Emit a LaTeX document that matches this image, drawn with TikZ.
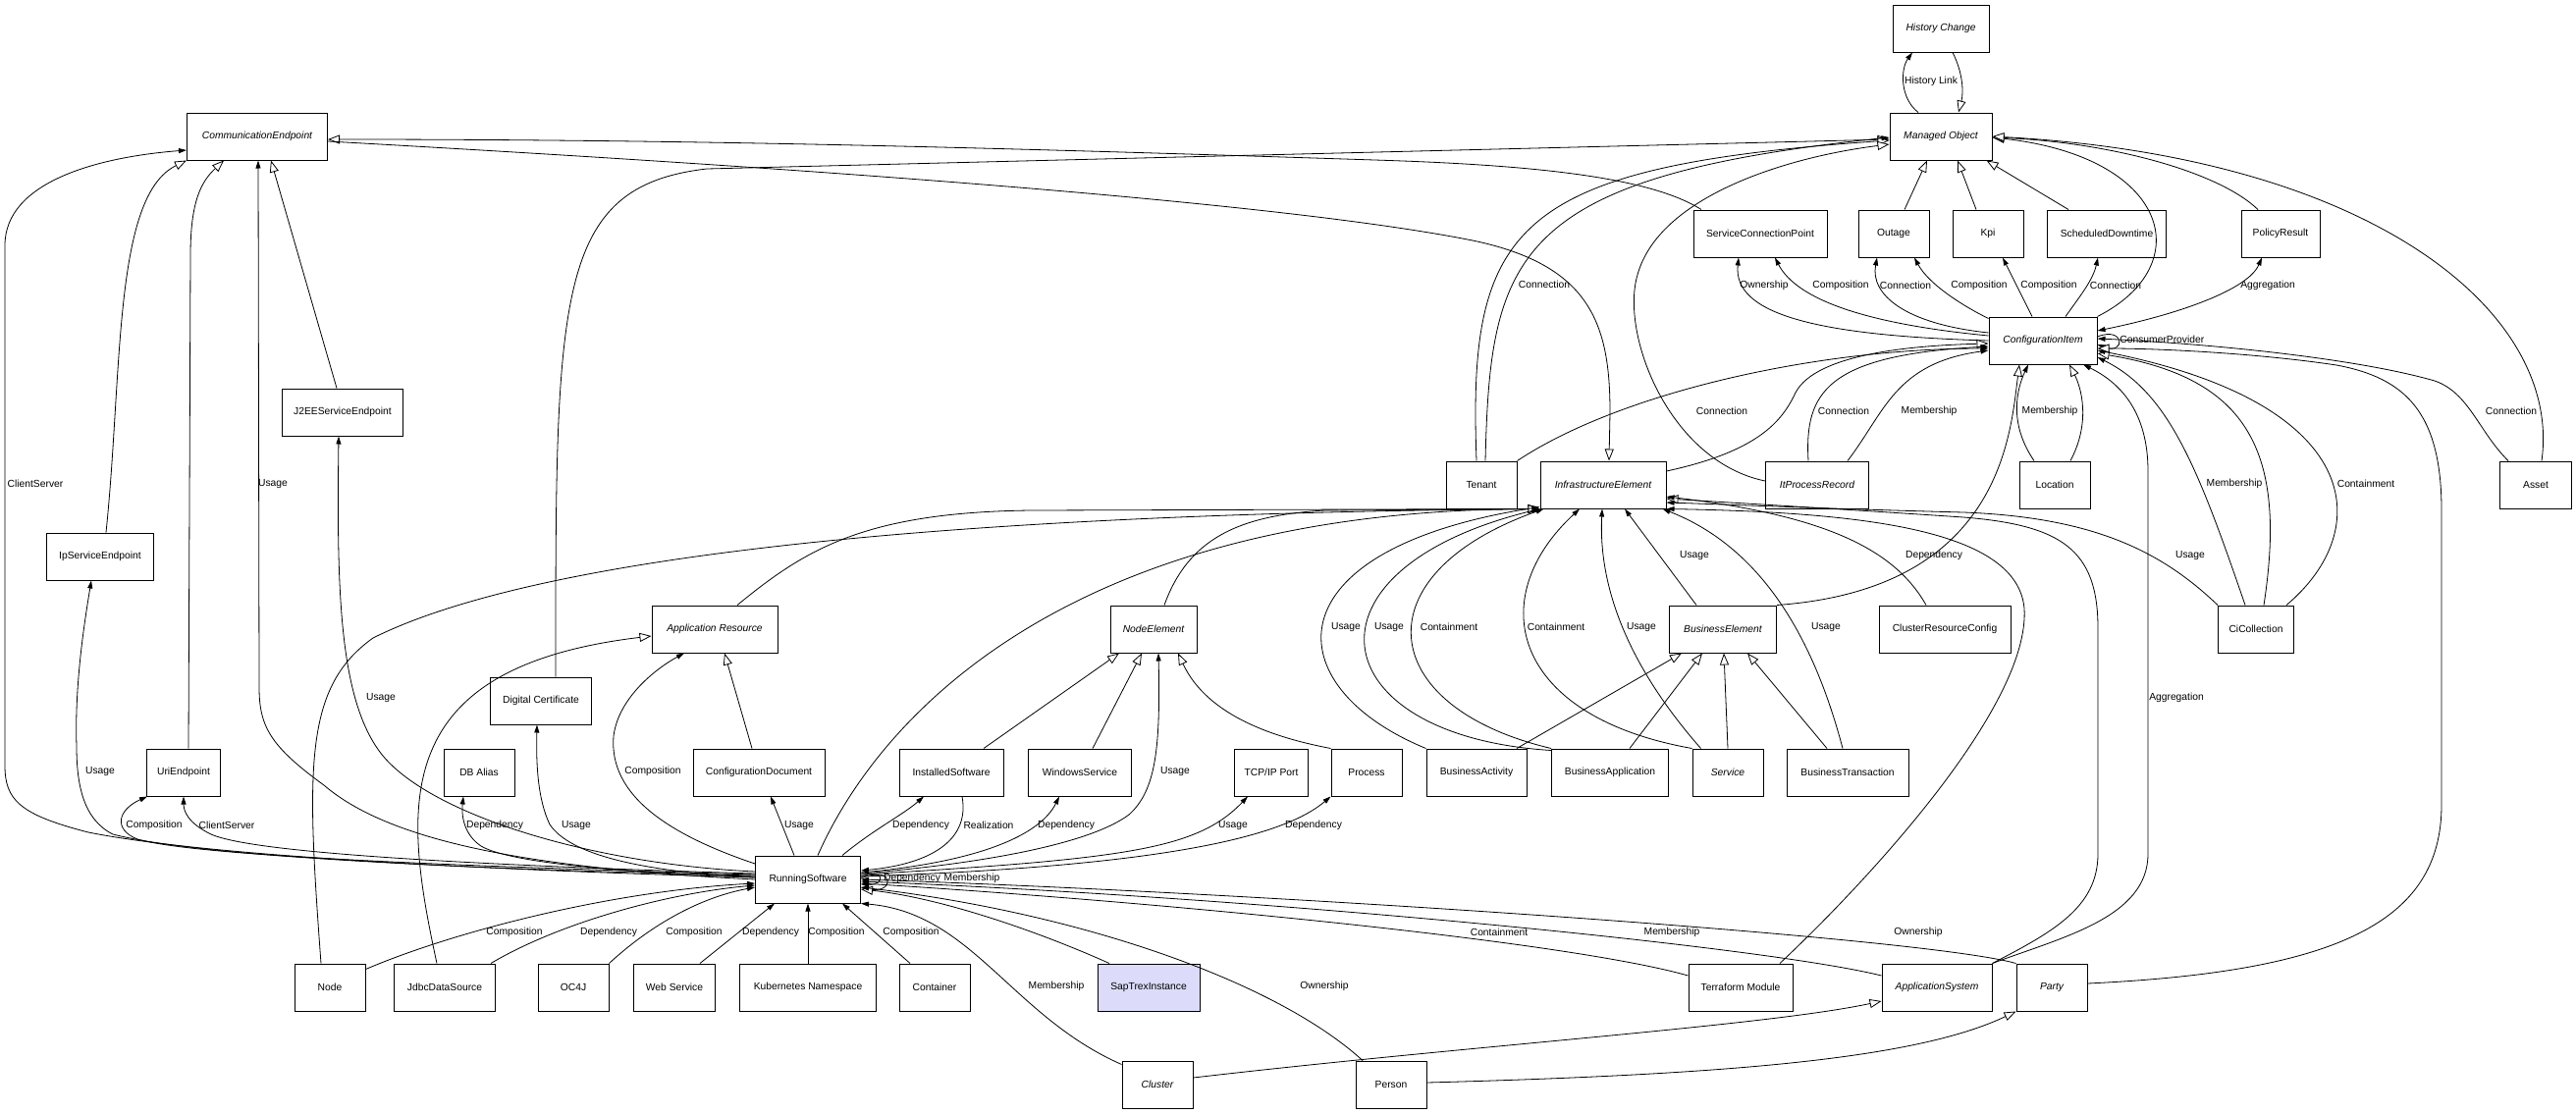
\documentclass[tikz,border=0pt]{standalone}
\usepackage{fontspec}
\setmainfont{Liberation Sans}
\usetikzlibrary{arrows.meta}
\definecolor{trexfill}{RGB}{220,220,250}

\begin{document}
\begin{tikzpicture}[x=1pt,y=-1pt,
  cls/.style={draw,line width=1pt,minimum width=72pt,minimum height=48pt,inner sep=2pt,font=\fontsize{10.3}{12}\selectfont},
  abs/.style={cls,font=\fontsize{10.3}{12}\selectfont\itshape},
  lbl/.style={inner sep=0pt,font=\fontsize{10.3}{12}\selectfont},
  assoc/.style={line width=0.8pt,arrows={-Triangle[length=8pt,width=5pt]}},
  both/.style={line width=0.8pt,arrows={Triangle[length=8pt,width=5pt]-Triangle[length=8pt,width=5pt]}},
  gen/.style={line width=0.8pt,arrows={-Triangle[open,fill=white,length=12pt,width=9pt]}}]

\path[fill=white,use as bounding box] (0,0) rectangle (2624,1135);

\node[abs,minimum width=98pt] (hist) at (1977,29) {History Change};
\node[abs,minimum width=104pt] (mo) at (1977,139) {Managed Object};
\node[abs,minimum width=143pt] (ce) at (262,139) {CommunicationEndpoint};
\node[cls,minimum width=136pt] (scp) at (1793,238) {ServiceConnectionPoint};
\node[cls] (outage) at (1929,238) {Outage};
\node[cls] (kpi) at (2025,238) {Kpi};
\node[cls,minimum width=121pt] (sdt) at (2146,238) {ScheduledDowntime};
\node[cls,minimum width=80pt] (policy) at (2323,238) {PolicyResult};
\node[abs,minimum width=110pt] (ci) at (2081,347) {ConfigurationItem};
\node[cls,minimum width=123pt] (j2ee) at (349,420) {J2EEServiceEndpoint};
\node[cls] (tenant) at (1509,494) {Tenant};
\node[abs,minimum width=128pt] (infra) at (1633,494) {InfrastructureElement};
\node[abs,minimum width=105pt] (itpr) at (1851,494) {ItProcessRecord};
\node[cls] (loc) at (2093,494) {Location};
\node[cls,minimum width=73pt] (asset) at (2583,494) {Asset};
\node[cls,minimum width=109pt] (ipse) at (102,567) {IpServiceEndpoint};
\node[abs,minimum width=128pt] (appres) at (728,641) {Application Resource};
\node[abs,minimum width=88pt] (nodeel) at (1175,641) {NodeElement};
\node[abs,minimum width=109pt] (busel) at (1755,641) {BusinessElement};
\node[cls,minimum width=134pt] (crc) at (1981,641) {ClusterResourceConfig};
\node[cls,minimum width=77pt] (cicoll) at (2298,641) {CiCollection};
\node[cls,minimum width=103pt] (digcert) at (551,714) {Digital Certificate};
\node[cls,minimum width=75pt] (uri) at (187,787) {UriEndpoint};
\node[cls] (dbalias) at (488,787) {DB Alias};
\node[cls,minimum width=134pt] (confdoc) at (773,787) {ConfigurationDocument};
\node[cls,minimum width=106pt] (instsw) at (969,787) {InstalledSoftware};
\node[cls,minimum width=105pt] (winsvc) at (1100,787) {WindowsService};
\node[cls,minimum width=75pt] (tcpip) at (1295,787) {TCP/IP Port};
\node[cls] (process) at (1392,787) {Process};
\node[cls,minimum width=102pt] (bact) at (1504,787) {BusinessActivity};
\node[cls,minimum width=119pt] (bapp) at (1640,787) {BusinessApplication};
\node[abs] (service) at (1760,787) {Service};
\node[cls,minimum width=124pt] (btrans) at (1882,787) {BusinessTransaction};
\node[cls,minimum width=107pt] (rs) at (823,896) {RunningSoftware};
\node[cls] (nodeitem) at (336,1006) {Node};
\node[cls,minimum width=103pt] (jdbc) at (453,1006) {JdbcDataSource};
\node[cls] (oc4j) at (584,1006) {OC4J};
\node[cls,minimum width=83pt] (websvc) at (687,1006) {Web Service};
\node[cls,minimum width=139pt] (k8s) at (823,1006) {Kubernetes Namespace};
\node[cls] (container) at (952,1006) {Container};
\node[cls,minimum width=104pt,fill=trexfill] (saptrex) at (1170,1006) {SapTrexInstance};
\node[cls,minimum width=106pt] (terra) at (1773,1006) {Terraform Module};
\node[abs,minimum width=112pt] (appsys) at (1973,1006) {ApplicationSystem};
\node[abs] (party) at (2090,1006) {Party};
\node[abs] (cluster) at (1179,1105) {Cluster};
\node[cls] (person) at (1417,1105) {Person};

\draw[assoc] ([xshift=-23pt]mo.north) .. controls (1935,100) and (1936,70) .. ([xshift=-29pt]hist.south) node[lbl] at (1967,83) {History Link};
\draw[gen] ([xshift=12pt]hist.south) .. controls (2000,75) and (2000,95) .. ([xshift=18pt]mo.north);

\draw[gen] ([xshift=-60pt]scp.north) .. controls (1680,180) and (1560,168) .. (1400,163) .. controls (1000,150) and (700,142) .. ([yshift=-3pt]ce.east);
\draw[gen] ([yshift=-5pt]ce.east) .. controls (800,170) and (1300,205) .. (1500,245) .. controls (1620,270) and (1640,330) .. (1640,420) -- ([xshift=6pt]infra.north);
\draw[gen] ([xshift=6pt]ipse.north) .. controls (125,380) and (115,200) .. (ce.south west);
\draw[gen] ([xshift=5pt]uri.north) -- (194,260) .. controls (194,205) and (205,185) .. ([xshift=-34pt]ce.south);
\draw[gen] ([xshift=-6pt]j2ee.north) -- ([xshift=14pt]ce.south);
\draw[assoc] ([yshift=8pt]rs.west) .. controls (600,880) and (440,830) .. (390,770) .. controls (345,715) and (343,600) .. ([xshift=-4pt]j2ee.south) node[lbl] at (388,711) {Usage};
\draw[assoc] ([yshift=2pt]rs.west) .. controls (450,885) and (200,870) .. (90,848) .. controls (20,830) and (5,815) .. (5,780) -- (5,250) .. controls (5,185) and (100,160) .. ([yshift=-14pt]ce.west) node[lbl] at (36,493) {ClientServer};
\draw[assoc] (rs.west) .. controls (550,885) and (400,860) .. (330,800) .. controls (275,760) and (264,740) .. (264,700) -- ([xshift=1pt]ce.south) node[lbl] at (278,493) {Usage};
\draw[assoc] ([yshift=4pt]rs.west) .. controls (450,885) and (200,872) .. (115,850) .. controls (85,835) and (78,800) .. (78,760) .. controls (76,700) and (85,640) .. ([xshift=-9pt]ipse.south) node[lbl] at (102,786) {Usage};
\draw[assoc] ([yshift=5pt]rs.west) .. controls (450,882) and (200,872) .. (140,855) .. controls (115,845) and (120,825) .. ([xshift=1pt]uri.south west) node[lbl] at (157,841) {Composition};
\draw[assoc] ([yshift=6pt]rs.west) .. controls (500,882) and (260,870) .. (215,850) .. controls (190,838) and (187,825) .. (uri.south) node[lbl] at (231,841) {ClientServer};
\draw[assoc] ([yshift=3pt]rs.west) .. controls (650,890) and (520,880) .. (490,862) .. controls (472,850) and (470,830) .. ([xshift=-16pt]dbalias.south) node[lbl] at (504,841) {Dependency};
\draw[assoc] ([yshift=2pt]rs.west) .. controls (650,888) and (580,870) .. (560,840) .. controls (548,815) and (546,780) .. ([xshift=-4pt]digcert.south) node[lbl] at (587,841) {Usage};
\draw[assoc] ([yshift=16pt]rs.west) .. controls (680,850) and (620,810) .. (625,750) .. controls (630,710) and (670,680) .. ([xshift=-31pt]appres.south) node[lbl] at (665,786) {Composition};
\draw[assoc] ([xshift=-14pt]rs.north) -- ([xshift=12pt]confdoc.south) node[lbl] at (814,841) {Usage};

\draw[gen] ([xshift=10pt]rs.north) .. controls (900,720) and (1100,520) .. (infra.south west);
\draw[gen] ([xshift=-9pt]nodeitem.north) .. controls (312,780) and (310,700) .. (380,650) .. controls (500,590) and (800,525) .. (infra.south west);
\draw[gen] ([xshift=23pt]appres.north) .. controls (820,560) and (880,522) .. (1050,520) -- (infra.south west);
\draw[gen] ([xshift=11pt]nodeel.north) .. controls (1210,550) and (1260,525) .. (1350,520) -- (infra.south west);

\draw[gen] ([xshift=15pt]digcert.north) .. controls (566,300) and (565,190) .. (720,172) -- ([yshift=-3pt]mo.west);
\draw[gen] ([xshift=-5pt]tenant.north) .. controls (1495,230) and (1540,170) .. ([yshift=-4pt]mo.west);
\draw[assoc] ([xshift=4pt]tenant.north) .. controls (1518,260) and (1540,180) .. ([yshift=-1pt]mo.west) node[lbl] at (1573,290) {Connection};
\draw[gen] ([yshift=4pt]itpr.west) .. controls (1700,470) and (1650,340) .. (1668,280) .. controls (1690,200) and (1820,160) .. ([yshift=-8pt]mo.west);
\draw[gen] ([xshift=11pt]outage.north) -- ([xshift=-14pt]mo.south);
\draw[gen] ([xshift=-12pt]kpi.north) -- ([xshift=17pt]mo.south);
\draw[gen] ([xshift=-39pt]sdt.north) -- ([xshift=-6pt]mo.south east);
\draw[gen] (ci.north east) .. controls (2240,270) and (2210,160) .. ([yshift=-1pt]mo.east);
\draw[gen] ([xshift=-23pt]policy.north) .. controls (2260,175) and (2150,145) .. ([yshift=-1pt]mo.east);
\draw[gen] ([xshift=6pt]asset.north) .. controls (2610,320) and (2420,160) .. (mo.east);

\draw[assoc] (ci.west) .. controls (1850,342) and (1765,320) .. ([xshift=-22pt]scp.south) node[lbl] at (1797,291) {Ownership};
\draw[assoc] ([yshift=5pt]ci.west) .. controls (1900,330) and (1830,305) .. ([xshift=15pt]scp.south) node[lbl] at (1875,291) {Composition};
\draw[assoc] ([yshift=8pt]ci.west) .. controls (1940,330) and (1905,300) .. ([xshift=-17pt]outage.south) node[lbl] at (1941,291) {Connection};
\draw[assoc] ([yshift=-2pt]ci.north west) .. controls (2000,312) and (1965,290) .. ([xshift=21pt]outage.south) node[lbl] at (2016,291) {Composition};
\draw[assoc] ([xshift=-11pt]ci.north) -- ([xshift=15pt]kpi.south) node[lbl] at (2087,291) {Composition};
\draw[assoc] ([xshift=23pt]ci.north) .. controls (2120,300) and (2132,285) .. ([xshift=-9pt]sdt.south) node[lbl] at (2155,291) {Connection};
\draw[both] ([yshift=10pt]ci.east) .. controls (2220,320) and (2290,295) .. ([xshift=-19pt]policy.south) node[lbl] at (2310,291) {Aggregation};
\draw[assoc] ([yshift=4pt]ci.east) .. controls (2165,332) and (2165,362) .. ([yshift=-4pt]ci.east) node[lbl,anchor=west] at (2159,346) {ConsumerProvider};

\draw[gen] ([yshift=14pt]infra.east) .. controls (1790,460) and (1815,430) .. (1829,400) .. controls (1850,360) and (1950,352) .. ([yshift=-3pt]ci.west);
\draw[assoc] (tenant.north east) .. controls (1650,400) and (1850,355) .. ([yshift=-8pt]ci.west) node[lbl] at (1754,419) {Connection};
\draw[assoc] ([xshift=-9pt]itpr.north) .. controls (1838,400) and (1860,362) .. ([yshift=-6pt]ci.west) node[lbl] at (1878,419) {Connection};
\draw[assoc] ([xshift=31pt]itpr.north) .. controls (1920,420) and (1930,370) .. ([yshift=-10pt]ci.west) node[lbl] at (1965,419) {Membership};
\draw[assoc] ([xshift=-21pt]loc.north) .. controls (2045,430) and (2055,395) .. ([xshift=-15pt]ci.south) node[lbl] at (2088,419) {Membership};
\draw[gen] ([xshift=16pt]loc.north) .. controls (2130,430) and (2120,395) .. ([xshift=27pt]ci.south);
\draw[gen] (busel.north east) .. controls (2040,600) and (2048,440) .. ([xshift=-24pt]ci.south);
\draw[assoc] ([xshift=-11pt]cicoll.north) .. controls (2240,480) and (2210,400) .. ([yshift=-17pt]ci.east) node[lbl] at (2276,493) {Membership};
\draw[gen] ([xshift=8pt]cicoll.north) .. controls (2330,460) and (2290,385) .. ([yshift=-13pt]ci.east);
\draw[assoc] ([xshift=-8pt]cicoll.north east) .. controls (2420,540) and (2410,410) .. ([yshift=-10pt]ci.east) node[lbl] at (2410,493) {Containment};
\draw[assoc] ([xshift=9pt]asset.north west) .. controls (2525,440) and (2515,400) .. (2480,388) .. controls (2400,365) and (2250,350) .. ([yshift=2pt]ci.east) node[lbl] at (2558,419) {Connection};
\draw[gen] ([yshift=4pt]party.east) .. controls (2380,990) and (2487,940) .. (2487,820) -- (2487,520) .. controls (2487,420) and (2450,385) .. (2380,372) .. controls (2300,360) and (2200,355) .. ([yshift=-8pt]ci.east);

\draw[gen] (appsys.north east) .. controls (2090,950) and (2137,925) .. (2137,870) -- (2137,640) .. controls (2137,560) and (2100,535) .. (2000,527) .. controls (1850,517) and (1760,512) .. ([yshift=-14pt]infra.east);
\draw[assoc] (appsys.north east) .. controls (2100,955) and (2188,935) .. (2188,870) -- (2188,480) .. controls (2188,420) and (2160,390) .. ([xshift=41pt]ci.south) node[lbl] at (2217,711) {Aggregation};
\draw[assoc] ([xshift=40pt]terra.north) .. controls (1900,900) and (2068,720) .. (2062,620) .. controls (2055,540) and (1900,522) .. (infra.south east);
\draw[assoc] (cicoll.north west) .. controls (2200,560) and (2130,527) .. (2000,522) .. controls (1850,518) and (1760,514) .. ([yshift=-18pt]infra.east) node[lbl] at (2231,566) {Usage};
\draw[assoc] ([xshift=-19pt]crc.north) .. controls (1930,560) and (1860,525) .. ([yshift=-12pt]infra.east) node[lbl] at (1970,566) {Dependency};

\draw[assoc] ([xshift=-27pt]busel.north) -- ([xshift=22pt]infra.south) node[lbl] at (1726,566) {Usage};
\draw[assoc] ([xshift=-5pt]btrans.north) .. controls (1850,660) and (1800,560) .. ([xshift=-4pt]infra.south east) node[lbl] at (1860,639) {Usage};
\draw[assoc] ([xshift=9pt]service.north west) .. controls (1660,680) and (1628,600) .. ([xshift=-1pt]infra.south) node[lbl] at (1672,639) {Usage};
\draw[assoc] (service.north west) .. controls (1540,730) and (1510,610) .. ([xshift=-24pt]infra.south) node[lbl] at (1585,639) {Containment};
\draw[assoc] (bapp.north west) .. controls (1400,720) and (1385,585) .. ([xshift=4pt]infra.south west) node[lbl] at (1476,639) {Containment};
\draw[assoc] ([yshift=-2pt]bapp.north west) .. controls (1345,750) and (1315,580) .. (infra.south west) node[lbl] at (1415,639) {Usage};
\draw[assoc] (bact.north west) .. controls (1300,700) and (1290,560) .. ([yshift=2pt]infra.south west) node[lbl] at (1371,639) {Usage};

\draw[gen] ([xshift=41pt]bact.north) -- ([xshift=-42pt]busel.south);
\draw[gen] ([xshift=20pt]bapp.north) -- ([xshift=-21pt]busel.south);
\draw[gen] (service.north) -- ([xshift=1pt]busel.south);
\draw[gen] ([xshift=-21pt]btrans.north) -- ([xshift=25pt]busel.south);

\draw[gen] ([xshift=33pt]instsw.north) -- ([xshift=-35pt]nodeel.south);
\draw[gen] ([xshift=13pt]winsvc.north) -- ([xshift=-12pt]nodeel.south);
\draw[gen] (process.north west) .. controls (1300,752) and (1230,730) .. ([xshift=25pt]nodeel.south);
\draw[assoc] ([yshift=6pt]rs.east) .. controls (1000,880) and (1110,860) .. (1150,830) .. controls (1178,805) and (1182,760) .. ([xshift=5pt]nodeel.south) node[lbl] at (1197,786) {Usage};

\draw[assoc] ([xshift=35pt]rs.north) .. controls (890,845) and (920,830) .. ([xshift=-28pt]instsw.south) node[lbl] at (938,841) {Dependency};
\draw[assoc] ([xshift=11pt]instsw.south) .. controls (988,855) and (950,880) .. ([yshift=9pt]rs.east) node[lbl] at (1007,841) {Realization};
\draw[assoc] ([yshift=7pt]rs.east) .. controls (1000,878) and (1060,850) .. ([xshift=-21pt]winsvc.south) node[lbl] at (1086,841) {Dependency};
\draw[assoc] ([yshift=5pt]rs.east) .. controls (1150,875) and (1220,865) .. ([xshift=-24pt]tcpip.south) node[lbl] at (1256,841) {Usage};
\draw[assoc] ([yshift=3pt]rs.east) .. controls (1200,882) and (1310,850) .. (process.south west) node[lbl] at (1338,841) {Dependency};
\draw[assoc] ([yshift=3pt]rs.east) .. controls (902,884) and (902,902) .. ([yshift=-5pt]rs.east) node[lbl] at (929,895) {Dependency};
\draw[assoc] ([yshift=1pt]rs.east) .. controls (912,880) and (912,912) .. ([yshift=-8pt]rs.east) node[lbl] at (990,895) {Membership};

\draw[assoc] ([yshift=12pt]terra.west) .. controls (1600,960) and (1200,920) .. ([yshift=-4pt]rs.east) node[lbl] at (1527,950) {Containment};
\draw[assoc] ([yshift=12pt]appsys.west) .. controls (1800,965) and (1300,915) .. ([yshift=-2pt]rs.east) node[lbl] at (1703,950) {Membership};
\draw[assoc] (party.north west) .. controls (1960,955) and (1300,910) .. (rs.east) node[lbl] at (1954,950) {Ownership};
\draw[gen] ([xshift=-40pt]saptrex.north) .. controls (1060,950) and (960,915) .. ([yshift=-10pt]rs.east);
\draw[assoc] ([xshift=-29pt]person.north) .. controls (1300,1000) and (1100,930) .. ([yshift=-8pt]rs.east) node[lbl] at (1349,1005) {Ownership};
\draw[assoc] ([yshift=-4pt]cluster.north west) .. controls (1030,1035) and (990,930) .. (rs.south east) node[lbl] at (1076,1005) {Membership};
\draw[assoc] ([xshift=-25pt]container.north) -- ([xshift=35pt]rs.south) node[lbl] at (928,950) {Composition};
\draw[assoc] (k8s.north) -- (rs.south) node[lbl] at (852,950) {Composition};
\draw[assoc] ([xshift=26pt]websvc.north) -- ([xshift=-34pt]rs.south) node[lbl] at (785,950) {Dependency};
\draw[assoc] (oc4j.north east) .. controls (660,945) and (710,915) .. ([yshift=-8pt]rs.west) node[lbl] at (707,950) {Composition};
\draw[assoc] ([xshift=-5pt]jdbc.north east) .. controls (570,940) and (680,910) .. ([yshift=-6pt]rs.west) node[lbl] at (620,950) {Dependency};
\draw[assoc] ([yshift=-6pt]nodeitem.north east) .. controls (460,950) and (620,908) .. ([yshift=-4pt]rs.west) node[lbl] at (524,950) {Composition};
\draw[gen] ([xshift=-8pt]jdbc.north) .. controls (410,820) and (395,680) .. ([yshift=-7pt]appres.west);
\draw[gen] ([xshift=-7pt]confdoc.north) -- ([xshift=10pt]appres.south);
\draw[gen] ([yshift=7pt]cluster.east) .. controls (1500,1065) and (1800,1045) .. ([yshift=-14pt]appsys.west);
\draw[gen] ([yshift=2pt]person.east) .. controls (1750,1095) and (1950,1080) .. (party.south west);
\end{tikzpicture}
\end{document}
